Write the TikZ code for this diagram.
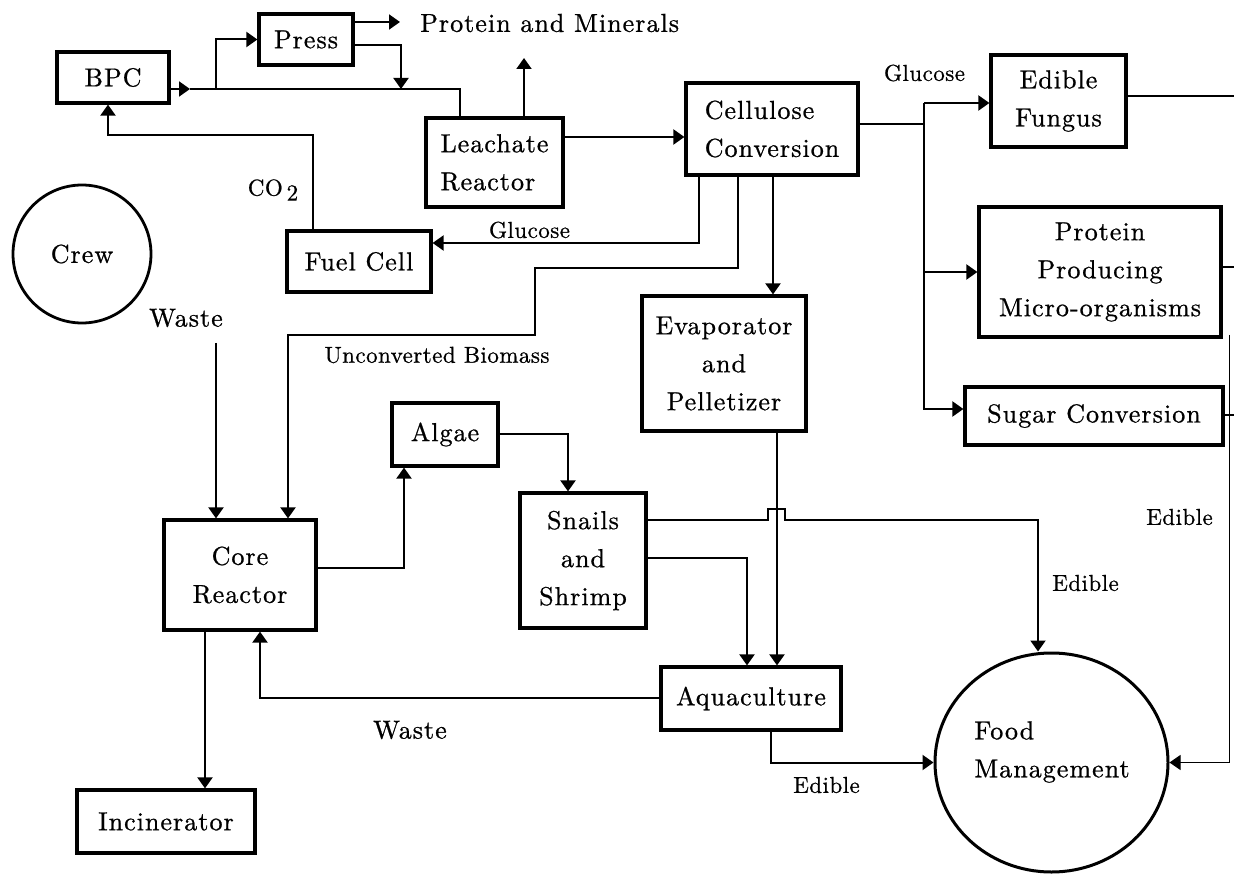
\documentclass[tikz,border=0pt]{standalone}
\usepackage{fontspec}
\newfontfamily\boxfont{lmroman10-regular.otf}[LetterSpace=4,FakeBold=0.8]
\newfontfamily\lblfont{lmroman10-regular.otf}[LetterSpace=2,FakeBold=0.8]
\usetikzlibrary{arrows.meta,shapes.geometric}
\begin{document}
\begin{tikzpicture}[x=1pt,y=-1pt,
  box/.style={draw,line width=3.2pt,inner sep=0pt,align=center,font=\boxfont\fontsize{26}{38}\selectfont},
  lbl/.style={inner sep=0pt,font=\lblfont\fontsize{23}{28}\selectfont},
  big/.style={inner sep=0pt,font=\boxfont\fontsize{26}{38}\selectfont},
  con/.style={line width=2pt},
  arr/.style={line width=2pt,-{Triangle[length=11pt,width=15pt]}}]
\useasboundingbox (0,0) rectangle (1234,874);
\fill[white] (0,0) rectangle (1234,874);
% boxes
\node[box,minimum width=112pt,minimum height=51pt] (BPC) at (113,77.5) {BPC};
\node[box,minimum width=94pt,minimum height=51pt] (Press) at (306,39.5) {Press};
\node[box,align=left,minimum width=137pt,minimum height=89pt] (Leach) at (494.5,162.5) {Leachate\\Reactor};
\node[box,align=left,minimum width=172pt,minimum height=92pt] (Cell) at (772,129) {Cellulose\\Conversion};
\node[box,minimum width=135pt,minimum height=92pt] (Fungus) at (1058.5,101) {Edible\\Fungus};
\node[box,minimum width=242pt,minimum height=130pt] (Prot) at (1100,272) {Protein\\Producing\\Micro-organisms};
\node[box,minimum width=258pt,minimum height=58pt] (Sugar) at (1094,416) {Sugar Conversion};
\node[box,minimum width=144pt,minimum height=61pt] (Fuel) at (359,261.5) {Fuel Cell};
\node[box,minimum width=164pt,minimum height=135pt] (Evap) at (724,363.5) {Evaporator\\and\\Pelletizer};
\node[box,minimum width=106pt,minimum height=63pt] (Algae) at (445,434.5) {Algae};
\node[box,minimum width=126pt,minimum height=135pt] (Snails) at (583,560.5) {Snails\\and\\Shrimp};
\node[box,minimum width=152pt,minimum height=110pt] (Core) at (240,575) {Core\\Reactor};
\node[box,minimum width=180pt,minimum height=63pt] (Aqua) at (751,698.5) {Aquaculture};
\node[box,minimum width=178pt,minimum height=63pt] (Inc) at (166,821.5) {Incinerator};
\node[box,circle,line width=2.8pt,minimum size=138pt] (Crew) at (82,254) {Crew};
\node[draw,ellipse,line width=3pt,inner sep=0pt,minimum width=233pt,minimum height=219pt] (Food) at (1051.5,762.5) {};
\node[big,align=left] (FoodT) at (1052,752) {Food\\Management};
% labels
\node[big,anchor=west] (PM) at (420,23) {Protein and Minerals};
\node[lbl] (gl1) at (924.5,73) {Glucose};
\node[lbl] (gl2) at (529.5,230) {Glucose};
\node[lbl] (co2) at (273,190) {CO\,\raisebox{-5pt}{2}};
\node[big] (w1) at (186,318) {Waste};
\node[lbl] (ub) at (437,355) {Unconverted Biomass};
\node[big] (w2) at (410,730) {Waste};
\node[lbl] (e1) at (1179.5,517) {Edible};
\node[lbl] (e2) at (1085.5,583) {Edible};
\node[lbl] (e3) at (826.5,785) {Edible};
% coordinates
\coordinate (ma) at (190,89);
\coordinate (j1) at (216,89);
\coordinate (j2) at (401,89);
\coordinate (j3) at (460,89);
\coordinate (pA) at (400,22);
\coordinate (pB) at (353,45);
\coordinate (lu) at (524,58);
\coordinate (lc) at (563,137);
\coordinate (c1) at (699,243);
\coordinate (u1) at (738,268);
\coordinate (u2) at (535,335);
\coordinate (u3) at (288,335);
\coordinate (ev) at (773,200);
\coordinate (g0) at (924,124);
\coordinate (gf) at (924,103);
\coordinate (gp) at (924,272);
\coordinate (gs) at (924,409);
\coordinate (r1) at (1234,96);
\coordinate (r2) at (1234,267);
\coordinate (r3) at (1234,415);
\coordinate (rv) at (1229,335);
\coordinate (ea) at (777,500);
\coordinate (hA) at (768,520);
\coordinate (hB) at (785,520);
\coordinate (fT) at (1038,520);
\coordinate (sa) at (747,558);
\coordinate (af) at (771,761);
\coordinate (ac) at (260,698);
\coordinate (ci) at (205,700);
\coordinate (ca) at (404,568);
\coordinate (as) at (568,434);
\coordinate (w0) at (216,343);
\coordinate (co) at (313,135);
\coordinate (cb) at (108,135);
% connectors
\draw[arr] (BPC.east |- ma) -- (ma);
\draw[con] (ma) -- (j3) -- (j3 |- Leach.north);
\draw[arr] (j1) |- (Press.west);
\draw[arr] (Press.east |- pA) -- (pA);
\draw[arr] (pB) -| (j2);
\draw[arr] (Leach.north -| lu) -- (lu);
\draw[arr] (lc) -- (Cell.west |- lc);
\draw[arr] (Cell.south -| c1) |- (Fuel.east |- c1);
\draw[arr] (Cell.south -| u1) -- (u1) -| (u2) -- (u3) -- (Core.north -| u3);
\draw[arr] (Cell.south -| ev) -- (Evap.north -| ev);
\draw[con] (Cell.east |- g0) -- (g0);
\draw[arr] (gf) -- (Fungus.west |- gf);
\draw[arr] (gp) -- (Prot.west |- gp);
\draw[arr] (gf) |- (Sugar.west |- gs);
\draw[con] (Fungus.east |- r1) -- (r1);
\draw[con] (Prot.east |- r2) -- (r2);
\draw[con] (Sugar.east |- r3) -- (r3);
\draw[line width=1pt,-{Triangle[length=11pt,width=15pt]}] (rv) |- (Food.east);
\draw[arr] (Evap.south -| ea) -- (Aqua.north -| ea);
\draw[arr] (Snails.east |- hA) -- (hA) -- ++(0,-11) -- ++(17,0) -- (hB) -- (fT) -- (Food.north -| fT);
\draw[arr] (Snails.east |- sa) -| (Aqua.north -| sa);
\draw[arr] (Aqua.south -| af) |- (Food.west);
\draw[arr] (Aqua.west |- ac) -| (Core.south -| ac);
\draw[arr] (Core.south -| ci) -- (Inc.north -| ci);
\draw[arr] (Core.east |- ca) -| (Algae.south -| ca);
\draw[arr] (Algae.east |- as) -| (Snails.north -| as);
\draw[arr] (w0) -- (Core.north -| w0);
\draw[arr] (Fuel.north -| co) -- (co) -| (BPC.south -| cb);
\end{tikzpicture}
\end{document}
